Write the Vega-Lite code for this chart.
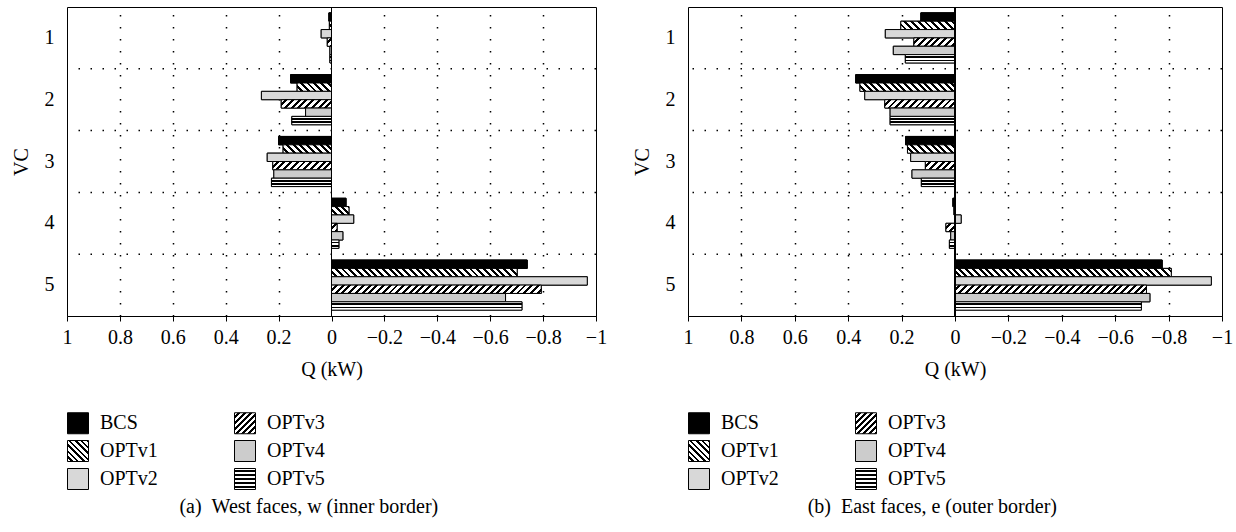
{
  "$schema": "https://vega.github.io/schema/vega-lite/v6.json",
  "padding": {"left": 10, "top": 6, "right": 0, "bottom": 0},
  "params": [
    {"name": "hatch", "value": [
      {"offset":0,"color":"#fff"},{"offset":0.014,"color":"#fff"},{"offset":0.014,"color":"#000"},{"offset":0.025,"color":"#000"},
      {"offset":0.025,"color":"#fff"},{"offset":0.039,"color":"#fff"},{"offset":0.039,"color":"#000"},{"offset":0.05,"color":"#000"},
      {"offset":0.05,"color":"#fff"},{"offset":0.064,"color":"#fff"},{"offset":0.064,"color":"#000"},{"offset":0.075,"color":"#000"},
      {"offset":0.075,"color":"#fff"},{"offset":0.089,"color":"#fff"},{"offset":0.089,"color":"#000"},{"offset":0.1,"color":"#000"},
      {"offset":0.1,"color":"#fff"},{"offset":0.114,"color":"#fff"},{"offset":0.114,"color":"#000"},{"offset":0.125,"color":"#000"},
      {"offset":0.125,"color":"#fff"},{"offset":0.139,"color":"#fff"},{"offset":0.139,"color":"#000"},{"offset":0.15,"color":"#000"},
      {"offset":0.15,"color":"#fff"},{"offset":0.164,"color":"#fff"},{"offset":0.164,"color":"#000"},{"offset":0.175,"color":"#000"},
      {"offset":0.175,"color":"#fff"},{"offset":0.189,"color":"#fff"},{"offset":0.189,"color":"#000"},{"offset":0.2,"color":"#000"},
      {"offset":0.2,"color":"#fff"},{"offset":0.214,"color":"#fff"},{"offset":0.214,"color":"#000"},{"offset":0.225,"color":"#000"},
      {"offset":0.225,"color":"#fff"},{"offset":0.239,"color":"#fff"},{"offset":0.239,"color":"#000"},{"offset":0.25,"color":"#000"},
      {"offset":0.25,"color":"#fff"},{"offset":0.264,"color":"#fff"},{"offset":0.264,"color":"#000"},{"offset":0.275,"color":"#000"},
      {"offset":0.275,"color":"#fff"},{"offset":0.289,"color":"#fff"},{"offset":0.289,"color":"#000"},{"offset":0.3,"color":"#000"},
      {"offset":0.3,"color":"#fff"},{"offset":0.314,"color":"#fff"},{"offset":0.314,"color":"#000"},{"offset":0.325,"color":"#000"},
      {"offset":0.325,"color":"#fff"},{"offset":0.339,"color":"#fff"},{"offset":0.339,"color":"#000"},{"offset":0.35,"color":"#000"},
      {"offset":0.35,"color":"#fff"},{"offset":0.364,"color":"#fff"},{"offset":0.364,"color":"#000"},{"offset":0.375,"color":"#000"},
      {"offset":0.375,"color":"#fff"},{"offset":0.389,"color":"#fff"},{"offset":0.389,"color":"#000"},{"offset":0.4,"color":"#000"},
      {"offset":0.4,"color":"#fff"},{"offset":0.414,"color":"#fff"},{"offset":0.414,"color":"#000"},{"offset":0.425,"color":"#000"},
      {"offset":0.425,"color":"#fff"},{"offset":0.439,"color":"#fff"},{"offset":0.439,"color":"#000"},{"offset":0.45,"color":"#000"},
      {"offset":0.45,"color":"#fff"},{"offset":0.464,"color":"#fff"},{"offset":0.464,"color":"#000"},{"offset":0.475,"color":"#000"},
      {"offset":0.475,"color":"#fff"},{"offset":0.489,"color":"#fff"},{"offset":0.489,"color":"#000"},{"offset":0.5,"color":"#000"},
      {"offset":0.5,"color":"#fff"},{"offset":0.514,"color":"#fff"},{"offset":0.514,"color":"#000"},{"offset":0.525,"color":"#000"},
      {"offset":0.525,"color":"#fff"},{"offset":0.539,"color":"#fff"},{"offset":0.539,"color":"#000"},{"offset":0.55,"color":"#000"},
      {"offset":0.55,"color":"#fff"},{"offset":0.564,"color":"#fff"},{"offset":0.564,"color":"#000"},{"offset":0.575,"color":"#000"},
      {"offset":0.575,"color":"#fff"},{"offset":0.589,"color":"#fff"},{"offset":0.589,"color":"#000"},{"offset":0.6,"color":"#000"},
      {"offset":0.6,"color":"#fff"},{"offset":0.614,"color":"#fff"},{"offset":0.614,"color":"#000"},{"offset":0.625,"color":"#000"},
      {"offset":0.625,"color":"#fff"},{"offset":0.639,"color":"#fff"},{"offset":0.639,"color":"#000"},{"offset":0.65,"color":"#000"},
      {"offset":0.65,"color":"#fff"},{"offset":0.664,"color":"#fff"},{"offset":0.664,"color":"#000"},{"offset":0.675,"color":"#000"},
      {"offset":0.675,"color":"#fff"},{"offset":0.689,"color":"#fff"},{"offset":0.689,"color":"#000"},{"offset":0.7,"color":"#000"},
      {"offset":0.7,"color":"#fff"},{"offset":0.714,"color":"#fff"},{"offset":0.714,"color":"#000"},{"offset":0.725,"color":"#000"},
      {"offset":0.725,"color":"#fff"},{"offset":0.739,"color":"#fff"},{"offset":0.739,"color":"#000"},{"offset":0.75,"color":"#000"},
      {"offset":0.75,"color":"#fff"},{"offset":0.764,"color":"#fff"},{"offset":0.764,"color":"#000"},{"offset":0.775,"color":"#000"},
      {"offset":0.775,"color":"#fff"},{"offset":0.789,"color":"#fff"},{"offset":0.789,"color":"#000"},{"offset":0.8,"color":"#000"},
      {"offset":0.8,"color":"#fff"},{"offset":0.814,"color":"#fff"},{"offset":0.814,"color":"#000"},{"offset":0.825,"color":"#000"},
      {"offset":0.825,"color":"#fff"},{"offset":0.839,"color":"#fff"},{"offset":0.839,"color":"#000"},{"offset":0.85,"color":"#000"},
      {"offset":0.85,"color":"#fff"},{"offset":0.864,"color":"#fff"},{"offset":0.864,"color":"#000"},{"offset":0.875,"color":"#000"},
      {"offset":0.875,"color":"#fff"},{"offset":0.889,"color":"#fff"},{"offset":0.889,"color":"#000"},{"offset":0.9,"color":"#000"},
      {"offset":0.9,"color":"#fff"},{"offset":0.914,"color":"#fff"},{"offset":0.914,"color":"#000"},{"offset":0.925,"color":"#000"},
      {"offset":0.925,"color":"#fff"},{"offset":0.939,"color":"#fff"},{"offset":0.939,"color":"#000"},{"offset":0.95,"color":"#000"},
      {"offset":0.95,"color":"#fff"},{"offset":0.964,"color":"#fff"},{"offset":0.964,"color":"#000"},{"offset":0.975,"color":"#000"},
      {"offset":0.975,"color":"#fff"},{"offset":0.989,"color":"#fff"},{"offset":0.989,"color":"#000"},{"offset":1,"color":"#000"}
    ]},
    {"name": "hatchL", "value": [
      {"offset":0,"color":"#fff"},{"offset":0.0786,"color":"#fff"},{"offset":0.0786,"color":"#000"},{"offset":0.1429,"color":"#000"},
      {"offset":0.1429,"color":"#fff"},{"offset":0.2214,"color":"#fff"},{"offset":0.2214,"color":"#000"},{"offset":0.2857,"color":"#000"},
      {"offset":0.2857,"color":"#fff"},{"offset":0.3643,"color":"#fff"},{"offset":0.3643,"color":"#000"},{"offset":0.4286,"color":"#000"},
      {"offset":0.4286,"color":"#fff"},{"offset":0.5071,"color":"#fff"},{"offset":0.5071,"color":"#000"},{"offset":0.5714,"color":"#000"},
      {"offset":0.5714,"color":"#fff"},{"offset":0.65,"color":"#fff"},{"offset":0.65,"color":"#000"},{"offset":0.7143,"color":"#000"},
      {"offset":0.7143,"color":"#fff"},{"offset":0.7929,"color":"#fff"},{"offset":0.7929,"color":"#000"},{"offset":0.8571,"color":"#000"},
      {"offset":0.8571,"color":"#fff"},{"offset":0.9357,"color":"#fff"},{"offset":0.9357,"color":"#000"},{"offset":1,"color":"#000"}
    ]},
    {"name": "hstripe", "value": [
      {"offset":0,"color":"#fff"},{"offset":0.2,"color":"#fff"},{"offset":0.2,"color":"#000"},{"offset":0.4,"color":"#000"},
      {"offset":0.4,"color":"#fff"},{"offset":0.6,"color":"#fff"},{"offset":0.6,"color":"#000"},{"offset":0.8,"color":"#000"},
      {"offset":0.8,"color":"#fff"},{"offset":1,"color":"#fff"}
    ]},
    {"name": "hstripeL", "value": [
      {"offset":0,"color":"#fff"},{"offset":0.0909,"color":"#fff"},{"offset":0.0909,"color":"#000"},{"offset":0.1818,"color":"#000"},
      {"offset":0.1818,"color":"#fff"},{"offset":0.2727,"color":"#fff"},{"offset":0.2727,"color":"#000"},{"offset":0.3636,"color":"#000"},
      {"offset":0.3636,"color":"#fff"},{"offset":0.4545,"color":"#fff"},{"offset":0.4545,"color":"#000"},{"offset":0.5455,"color":"#000"},
      {"offset":0.5455,"color":"#fff"},{"offset":0.6364,"color":"#fff"},{"offset":0.6364,"color":"#000"},{"offset":0.7273,"color":"#000"},
      {"offset":0.7273,"color":"#fff"},{"offset":0.8182,"color":"#fff"},{"offset":0.8182,"color":"#000"},{"offset":0.9091,"color":"#000"},
      {"offset":0.9091,"color":"#fff"},{"offset":1,"color":"#fff"}
    ]}
  ],
  "datasets": {
    "west": [
      {"VC":1,"series":"BCS","Q":0.01},{"VC":1,"series":"OPTv1","Q":0.008},{"VC":1,"series":"OPTv2","Q":0.039},{"VC":1,"series":"OPTv3","Q":0.016},{"VC":1,"series":"OPTv4","Q":0.006},{"VC":1,"series":"OPTv5","Q":0.006},
      {"VC":2,"series":"BCS","Q":0.155},{"VC":2,"series":"OPTv1","Q":0.13},{"VC":2,"series":"OPTv2","Q":0.265},{"VC":2,"series":"OPTv3","Q":0.19},{"VC":2,"series":"OPTv4","Q":0.098},{"VC":2,"series":"OPTv5","Q":0.15},
      {"VC":3,"series":"BCS","Q":0.2},{"VC":3,"series":"OPTv1","Q":0.183},{"VC":3,"series":"OPTv2","Q":0.243},{"VC":3,"series":"OPTv3","Q":0.222},{"VC":3,"series":"OPTv4","Q":0.218},{"VC":3,"series":"OPTv5","Q":0.227},
      {"VC":4,"series":"BCS","Q":-0.055},{"VC":4,"series":"OPTv1","Q":-0.066},{"VC":4,"series":"OPTv2","Q":-0.084},{"VC":4,"series":"OPTv3","Q":-0.021},{"VC":4,"series":"OPTv4","Q":-0.043},{"VC":4,"series":"OPTv5","Q":-0.028},
      {"VC":5,"series":"BCS","Q":-0.74},{"VC":5,"series":"OPTv1","Q":-0.702},{"VC":5,"series":"OPTv2","Q":-0.967},{"VC":5,"series":"OPTv3","Q":-0.793},{"VC":5,"series":"OPTv4","Q":-0.658},{"VC":5,"series":"OPTv5","Q":-0.72}
    ],
    "east": [
      {"VC":1,"series":"BCS","Q":0.128},{"VC":1,"series":"OPTv1","Q":0.203},{"VC":1,"series":"OPTv2","Q":0.261},{"VC":1,"series":"OPTv3","Q":0.154},{"VC":1,"series":"OPTv4","Q":0.231},{"VC":1,"series":"OPTv5","Q":0.186},
      {"VC":2,"series":"BCS","Q":0.372},{"VC":2,"series":"OPTv1","Q":0.356},{"VC":2,"series":"OPTv2","Q":0.338},{"VC":2,"series":"OPTv3","Q":0.263},{"VC":2,"series":"OPTv4","Q":0.243},{"VC":2,"series":"OPTv5","Q":0.243},
      {"VC":3,"series":"BCS","Q":0.185},{"VC":3,"series":"OPTv1","Q":0.178},{"VC":3,"series":"OPTv2","Q":0.166},{"VC":3,"series":"OPTv3","Q":0.111},{"VC":3,"series":"OPTv4","Q":0.161},{"VC":3,"series":"OPTv5","Q":0.126},
      {"VC":4,"series":"BCS","Q":0.008},{"VC":4,"series":"OPTv1","Q":0.004},{"VC":4,"series":"OPTv2","Q":-0.023},{"VC":4,"series":"OPTv3","Q":0.034},{"VC":4,"series":"OPTv4","Q":0.016},{"VC":4,"series":"OPTv5","Q":0.021},
      {"VC":5,"series":"BCS","Q":-0.776},{"VC":5,"series":"OPTv1","Q":-0.81},{"VC":5,"series":"OPTv2","Q":-0.96},{"VC":5,"series":"OPTv3","Q":-0.717},{"VC":5,"series":"OPTv4","Q":-0.73},{"VC":5,"series":"OPTv5","Q":-0.698}
    ]
  },
  "spacing": 23,
  "resolve": {"scale": {"fill": "independent", "x": "independent", "y": "independent", "yOffset": "independent"}, "legend": {"fill": "independent"}},
  "hconcat": [
    {
      "width": 529, "height": 309,
      "data": {"name": "west"},
      "title": {"text": "(a)\u2002West faces, w (inner border)"},
      "layer": [
        {
          "transform": [{"aggregate": [{"op": "count", "as": "n"}], "groupby": ["VC"]}, {"filter": "datum.VC > 1"}],
          "mark": {"type": "rule", "color": "black", "strokeDash": [1.5, 10.5], "strokeWidth": 1.5},
          "encoding": {"y": {"field": "VC", "type": "ordinal", "bandPosition": 0}}
        },
        {
          "mark": {"type": "bar", "stroke": "black", "strokeWidth": 1},
          "encoding": {
            "x": {"field": "Q", "type": "quantitative", "scale": {"domain": [1, -1], "nice": false},
              "axis": {"title": "Q (kW)", "values": [1,0.95,0.9,0.85,0.8,0.75,0.7,0.65,0.6,0.55,0.5,0.45,0.4,0.35,0.3,0.25,0.2,0.15,0.1,0.05,0,-0.05,-0.1,-0.15,-0.2,-0.25,-0.3,-0.35,-0.4,-0.45,-0.5,-0.55,-0.6,-0.65,-0.7,-0.75,-0.8,-0.85,-0.9,-0.95,-1],
                "format": ".1~f", "labelExpr": "abs(round(datum.value*20))%4==0 ? datum.label : ''",
                "labelOverlap": false, "labelFlush": false, "labelPadding": 6, "titlePadding": 12,
                "labelFont": "Liberation Serif", "titleFont": "Liberation Serif", "labelFontSize": 20, "titleFontSize": 20, "titleFontWeight": "normal", "labelColor": "black", "titleColor": "black",
                "grid": true, "gridColor": "black", "gridDash": [1.5, 10.5], "gridWidth": 1.5,
                "gridOpacity": {"condition": {"test": "abs(round(datum.value*20))%4==0 && abs(datum.value)<1 && datum.value!=0", "value": 1}, "value": 0},
                "tickSize": 5, "tickColor": "black", "domainColor": "black"}},
            "y": {"field": "VC", "type": "ordinal", "scale": {"paddingInner": 0, "paddingOuter": 0},
              "axis": {"title": "VC", "ticks": false, "domain": false, "grid": false, "labelPadding": 13, "labelAngle": 0, "titlePadding": 13,
                "labelFont": "Liberation Serif", "titleFont": "Liberation Serif", "labelFontSize": 20, "titleFontSize": 20, "titleFontWeight": "normal", "labelColor": "black", "titleColor": "black"}},
            "yOffset": {"field": "series", "sort": ["BCS","OPTv1","OPTv2","OPTv3","OPTv4","OPTv5"], "scale": {"paddingInner": 0, "paddingOuter": 0.7}},
            "fill": {"field": "series", "type": "nominal",
              "scale": {"domain": ["BCS","OPTv3","OPTv1","OPTv4","OPTv2","OPTv5"],
                "range": ["#000",
                  {"expr": "{gradient:'linear',x1:0,y1:0,x2:1,y2:1,stops:hatchL}"},
                  {"expr": "{gradient:'linear',x1:0,y1:1,x2:1,y2:0,stops:hatchL}"},
                  "#cccccc", "#d8d8d8",
                  {"expr": "{gradient:'linear',x1:0,y1:0,x2:0,y2:1,stops:hstripeL}"}]},
              "legend": {"title": null, "orient": "bottom", "columns": 2, "symbolType": "square", "symbolSize": 441, "symbolStrokeColor": "black", "symbolStrokeWidth": 1, "symbolOpacity": 1, "labelFont": "Liberation Serif", "labelFontSize": 20, "labelColor": "black", "labelOffset": 11, "rowPadding": 2, "columnPadding": 74, "offset": 33}}
          }
        },
        {
          "mark": {"type": "bar", "stroke": "black", "strokeWidth": 1,
            "fill": {"expr": "datum.series=='BCS'?'#000':datum.series=='OPTv2'?'#d8d8d8':datum.series=='OPTv4'?'#cccccc':datum.series=='OPTv5'?{gradient:'linear',x1:0,y1:0,x2:0,y2:1,stops:hstripe}:datum.series=='OPTv1'?{gradient:'linear',x1:0,y1:1,x2:270*abs(datum.Q)*265/(pow(abs(datum.Q)*265,2)+70),y2:1-2255/(pow(abs(datum.Q)*265,2)+70),stops:hatch}:{gradient:'linear',x1:0,y1:0,x2:270*abs(datum.Q)*265/(pow(abs(datum.Q)*265,2)+70),y2:2255/(pow(abs(datum.Q)*265,2)+70),stops:hatch}"}},
          "encoding": {
            "x": {"field": "Q", "type": "quantitative"},
            "y": {"field": "VC", "type": "ordinal"},
            "yOffset": {"field": "series", "sort": ["BCS","OPTv1","OPTv2","OPTv3","OPTv4","OPTv5"]}
          }
        },
        {
          "mark": {"type": "rule", "color": "black", "strokeWidth": 1},
          "encoding": {"x": {"datum": 0, "type": "quantitative"}}
        }
      ]
    },
    {
      "width": 534, "height": 309,
      "data": {"name": "east"},
      "title": {"text": "(b)\u2002East faces, e (outer border)"},
      "layer": [
        {
          "transform": [{"aggregate": [{"op": "count", "as": "n"}], "groupby": ["VC"]}, {"filter": "datum.VC > 1"}],
          "mark": {"type": "rule", "color": "black", "strokeDash": [1.5, 10.5], "strokeWidth": 1.5},
          "encoding": {"y": {"field": "VC", "type": "ordinal", "bandPosition": 0}}
        },
        {
          "mark": {"type": "bar", "stroke": "black", "strokeWidth": 1},
          "encoding": {
            "x": {"field": "Q", "type": "quantitative", "scale": {"domain": [1, -1], "nice": false},
              "axis": {"title": "Q (kW)", "values": [1,0.95,0.9,0.85,0.8,0.75,0.7,0.65,0.6,0.55,0.5,0.45,0.4,0.35,0.3,0.25,0.2,0.15,0.1,0.05,0,-0.05,-0.1,-0.15,-0.2,-0.25,-0.3,-0.35,-0.4,-0.45,-0.5,-0.55,-0.6,-0.65,-0.7,-0.75,-0.8,-0.85,-0.9,-0.95,-1],
                "format": ".1~f", "labelExpr": "abs(round(datum.value*20))%4==0 ? datum.label : ''",
                "labelOverlap": false, "labelFlush": false, "labelPadding": 6, "titlePadding": 12,
                "labelFont": "Liberation Serif", "titleFont": "Liberation Serif", "labelFontSize": 20, "titleFontSize": 20, "titleFontWeight": "normal", "labelColor": "black", "titleColor": "black",
                "grid": true, "gridColor": "black", "gridDash": [1.5, 10.5], "gridWidth": 1.5,
                "gridOpacity": {"condition": {"test": "abs(round(datum.value*20))%4==0 && abs(datum.value)<1 && datum.value!=0", "value": 1}, "value": 0},
                "tickSize": 5, "tickColor": "black", "domainColor": "black"}},
            "y": {"field": "VC", "type": "ordinal", "scale": {"paddingInner": 0, "paddingOuter": 0},
              "axis": {"title": "VC", "ticks": false, "domain": false, "grid": false, "labelPadding": 13, "labelAngle": 0, "titlePadding": 13,
                "labelFont": "Liberation Serif", "titleFont": "Liberation Serif", "labelFontSize": 20, "titleFontSize": 20, "titleFontWeight": "normal", "labelColor": "black", "titleColor": "black"}},
            "yOffset": {"field": "series", "sort": ["BCS","OPTv1","OPTv2","OPTv3","OPTv4","OPTv5"], "scale": {"paddingInner": 0, "paddingOuter": 0.7}},
            "fill": {"field": "series", "type": "nominal",
              "scale": {"domain": ["BCS","OPTv3","OPTv1","OPTv4","OPTv2","OPTv5"],
                "range": ["#000",
                  {"expr": "{gradient:'linear',x1:0,y1:0,x2:1,y2:1,stops:hatchL}"},
                  {"expr": "{gradient:'linear',x1:0,y1:1,x2:1,y2:0,stops:hatchL}"},
                  "#cccccc", "#d8d8d8",
                  {"expr": "{gradient:'linear',x1:0,y1:0,x2:0,y2:1,stops:hstripeL}"}]},
              "legend": {"title": null, "orient": "bottom", "columns": 2, "symbolType": "square", "symbolSize": 441, "symbolStrokeColor": "black", "symbolStrokeWidth": 1, "symbolOpacity": 1, "labelFont": "Liberation Serif", "labelFontSize": 20, "labelColor": "black", "labelOffset": 11, "rowPadding": 2, "columnPadding": 74, "offset": 33}}
          }
        },
        {
          "mark": {"type": "bar", "stroke": "black", "strokeWidth": 1,
            "fill": {"expr": "datum.series=='BCS'?'#000':datum.series=='OPTv2'?'#d8d8d8':datum.series=='OPTv4'?'#cccccc':datum.series=='OPTv5'?{gradient:'linear',x1:0,y1:0,x2:0,y2:1,stops:hstripe}:datum.series=='OPTv1'?{gradient:'linear',x1:0,y1:1,x2:270*abs(datum.Q)*267/(pow(abs(datum.Q)*267,2)+70),y2:1-2255/(pow(abs(datum.Q)*267,2)+70),stops:hatch}:{gradient:'linear',x1:0,y1:0,x2:270*abs(datum.Q)*267/(pow(abs(datum.Q)*267,2)+70),y2:2255/(pow(abs(datum.Q)*267,2)+70),stops:hatch}"}},
          "encoding": {
            "x": {"field": "Q", "type": "quantitative"},
            "y": {"field": "VC", "type": "ordinal"},
            "yOffset": {"field": "series", "sort": ["BCS","OPTv1","OPTv2","OPTv3","OPTv4","OPTv5"]}
          }
        },
        {
          "mark": {"type": "rule", "color": "black", "strokeWidth": 1},
          "encoding": {"x": {"datum": 0, "type": "quantitative"}}
        }
      ]
    }
  ],
  "config": {
    "font": "Liberation Serif",
    "view": {"stroke": "black", "strokeWidth": 1},
    "axis": {"labelFont": "Liberation Serif", "titleFont": "Liberation Serif", "labelFontSize": 20, "titleFontSize": 20, "titleFontWeight": "normal", "labelColor": "black", "titleColor": "black"},
    "title": {"font": "Liberation Serif", "fontSize": 20, "fontWeight": "normal", "orient": "bottom", "anchor": "middle", "frame": "bounds", "offset": 5, "color": "black"}
  }
}
